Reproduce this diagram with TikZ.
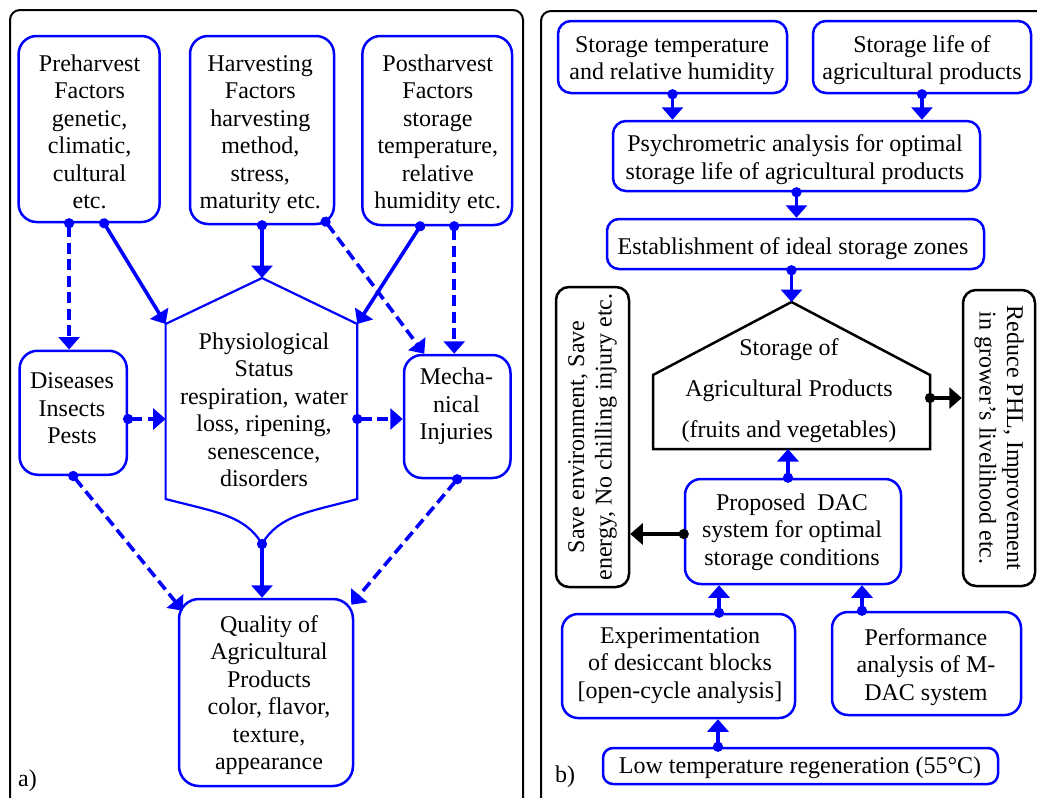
\documentclass[tikz,border=0pt]{standalone}
\usepackage{fontspec}
\setmainfont{Liberation Serif}
\usetikzlibrary{arrows.meta,calc}
\newcommand\myfs{\fontsize{24}{27.5}\selectfont}
\begin{document}
\begin{tikzpicture}[x=1pt,y=-1pt,
 panel/.style={draw=black, line width=2pt, rounded corners=10pt},
 bbox/.style={draw=blue, line width=2.5pt, inner sep=0pt},
 kbox/.style={draw=black, line width=2.5pt, rounded corners=13pt, inner sep=0pt, align=center, font=\myfs},
 txt/.style={align=center, inner sep=0pt, anchor=north, font=\myfs},
 conn/.style={line width=3.6pt, draw=blue, shorten <=-5pt, {Circle[length=10pt]}-{Triangle[length=12.5pt,width=21pt]}},
 dconn/.style={conn, dash pattern=on 11pt off 5.5pt},
 kconn/.style={conn, draw=black},
 shape line/.style={line width=2.2pt}
]
\useasboundingbox (0,0) rectangle (1037,798);
\draw[panel] (10,10) rectangle (523,830);
\draw[panel] (541,11) rectangle (1060,830);

% ---------- left panel ----------
\node[bbox, rounded corners=18pt, minimum width=141pt, minimum height=186pt] (pre) at (89.1,129) {};
\node[bbox, rounded corners=18pt, minimum width=144pt, minimum height=188pt] (har) at (262,130) {};
\node[bbox, rounded corners=18pt, minimum width=149.6pt, minimum height=189pt] (post) at (437.2,130.5) {};
\node[bbox, rounded corners=18pt, minimum width=107.2pt, minimum height=124pt] (dis) at (73.2,412.75) {};
\node[bbox, rounded corners=18pt, minimum width=106.5pt, minimum height=123pt] (mech) at (457.25,416.5) {};
\node[bbox, rounded corners=20pt, minimum width=174pt, minimum height=187pt] (qual) at (266,692.5) {};

\node[txt] (preT) at (89.6,51.75) {\strut Preharvest\\Factors\\genetic,\\climatic,\\cultural\\etc.};
\node[txt] (harT) at (260.3,51.75) {\strut Harvesting\\Factors\\harvesting\\method,\\stress,\\maturity etc.};
\node[txt] (postT) at (437.8,51.75) {\strut Postharvest\\Factors\\storage\\temperature,\\relative\\humidity etc.};
\node[txt] (disT) at (72,369.35) {\strut Diseases\\Insects\\Pests};
\node[txt] (mechT) at (456.4,365.25) {\strut Mecha-\\nical\\Injuries};
\node[txt] (qualT) at (269,612.75) {\strut Quality of\\Agricultural\\Products\\color, flavor,\\texture,\\appearance};

\coordinate (hA) at (262,278);
\coordinate (hL) at (165.6,324);
\coordinate (hR) at (357.3,324);
\coordinate (hBL) at (165.6,499);
\coordinate (hBR) at (357.3,499);
\coordinate (hB) at (262,544);
\coordinate (hLm) at (165.6,419);
\coordinate (hRm) at (357.3,419);
\draw[blue, shape line] (hB) .. controls (245,515) and (215,512) .. (hBL) -- (hL) -- (hA) -- (hR) -- (hBR) .. controls (309,512) and (279,515) .. (hB);
\node[txt] (phys) at (264,329.75) {\strut Physiological\\Status\\respiration, water\\loss, ripening,\\senescence,\\disorders};

\draw[dconn] ([xshift=-20pt]pre.south) -- ([xshift=-20pt]pre.south |- dis.north);
\draw[conn] ([xshift=15pt]pre.south) -- (hL);
\draw[conn] (har.south) -- (hA);
\draw[dconn] ([xshift=63.6pt,yshift=3.6pt]har.south) -- ([xshift=-33pt]mech.north);
\draw[conn] ([xshift=-17pt]post.south) -- (hR);
\draw[dconn] ([xshift=17pt]post.south) -- ([xshift=17pt]post.south |- mech.north);
\draw[dconn] (hLm -| dis.east) -- (hLm);
\draw[dconn] (hRm) -- (hRm -| mech.west);
\draw[dconn] (dis.south) -- ([xshift=5pt,yshift=-13pt]qual.north west);
\draw[dconn] (mech.south) -- ([xshift=-3pt,yshift=-7pt]qual.north east);
\draw[conn] (hB) -- (hB |- qual.north);

\node[font=\myfs, anchor=base west, inner sep=0pt] (la) at (18,786) {a)};

% ---------- right panel ----------
\node[bbox, rounded corners=13pt, minimum width=229pt, minimum height=72pt] (stemp) at (672.5,57) {};
\node[bbox, rounded corners=13pt, minimum width=218pt, minimum height=72pt] (slife) at (922,57) {};
\node[bbox, rounded corners=13pt, minimum width=367pt, minimum height=70pt] (psych) at (796.5,156) {};
\node[bbox, rounded corners=12pt, minimum width=377pt, minimum height=50pt] (estab) at (795.5,244) {};
\node[bbox, rounded corners=16pt, minimum width=216pt, minimum height=105pt] (dac) at (793,531.5) {};
\node[bbox, rounded corners=16pt, minimum width=233pt, minimum height=104pt] (exp) at (678.5,666) {};
\node[bbox, rounded corners=16pt, minimum width=189pt, minimum height=103pt] (perf) at (926.5,663.5) {};
\node[bbox, rounded corners=10pt, minimum width=395pt, minimum height=36pt] (low) at (800.5,766) {};

\node[txt] (stempT) at (672,33) {\strut Storage temperature\\and relative humidity};
\node[txt] (slifeT) at (922,33) {\strut Storage life of\\agricultural products};
\node[txt] (psychT) at (795,132.5) {\strut Psychrometric analysis for optimal\\storage life of agricultural products};
\node[txt] (estabT) at (793,234.75) {\strut Establishment of ideal storage zones};
\node[txt] (dacT) at (792,490.75) {\strut Proposed\ \ DAC\\system for optimal\\storage conditions};
\node[txt] (expT) at (680,624) {\strut Experimentation\\of desiccant blocks\\{[}open-cycle analysis{]}};
\node[txt] (perfT) at (926,625.75) {\strut Performance\\analysis of M-\\DAC system};
\node[txt] (lowT) at (800,754) {\strut Low temperature regeneration (55°C)};

\coordinate (hsBL) at (653,449);
\coordinate (hsL) at (653,375);
\coordinate (hsA) at (791.5,302);
\coordinate (hsR) at (930,375);
\coordinate (hsBR) at (930,449);
\coordinate (hsRm) at (930,398);
\draw[black, line width=2.5pt] (hsBL) -- (hsL) -- (hsA) -- (hsR) -- (hsBR) -- cycle;
\node[txt] (stor) at (789,335.75) {\strut Storage of\\[13.5pt]Agricultural Products\\[13.5pt](fruits and vegetables)};

\node[kbox, rotate=90, minimum width=300pt, minimum height=73pt] (lbox) at (592.5,437) {Save environment, Save\\energy, No chilling injury etc.};
\node[kbox, rotate=-90, minimum width=296pt, minimum height=72pt] (rbox) at (999,438) {Reduce PHL, Improvement\\in grower's livelihood etc.};

\draw[conn] (stemp.south) -- (stemp.south |- psych.north);
\draw[conn] (slife.south) -- (slife.south |- psych.north);
\draw[conn] (psych.south) -- (psych.south |- estab.north);
\draw[conn] ([xshift=-4pt]estab.south) -- (hsA);
\draw[conn] ([xshift=-5pt]dac.north) -- ([xshift=-5pt]dac.north |- hsBL);
\draw[kconn] ([yshift=-2.5pt]dac.west) -- ([yshift=-2.5pt]dac.west -| lbox.south);
\draw[kconn] (hsRm) -- (hsRm -| rbox.south);
\draw[conn] ([xshift=40.5pt]exp.north) -- ([xshift=40.5pt]exp.north |- dac.south);
\draw[conn] ([xshift=-64.5pt]perf.north) -- ([xshift=-64.5pt]perf.north |- dac.south);
\draw[conn] ([xshift=-82.5pt]low.north) -- ([xshift=-82.5pt]low.north |- exp.south);

\node[font=\myfs, anchor=base west, inner sep=0pt] (lb) at (555,782) {b)};
\end{tikzpicture}
\end{document}
